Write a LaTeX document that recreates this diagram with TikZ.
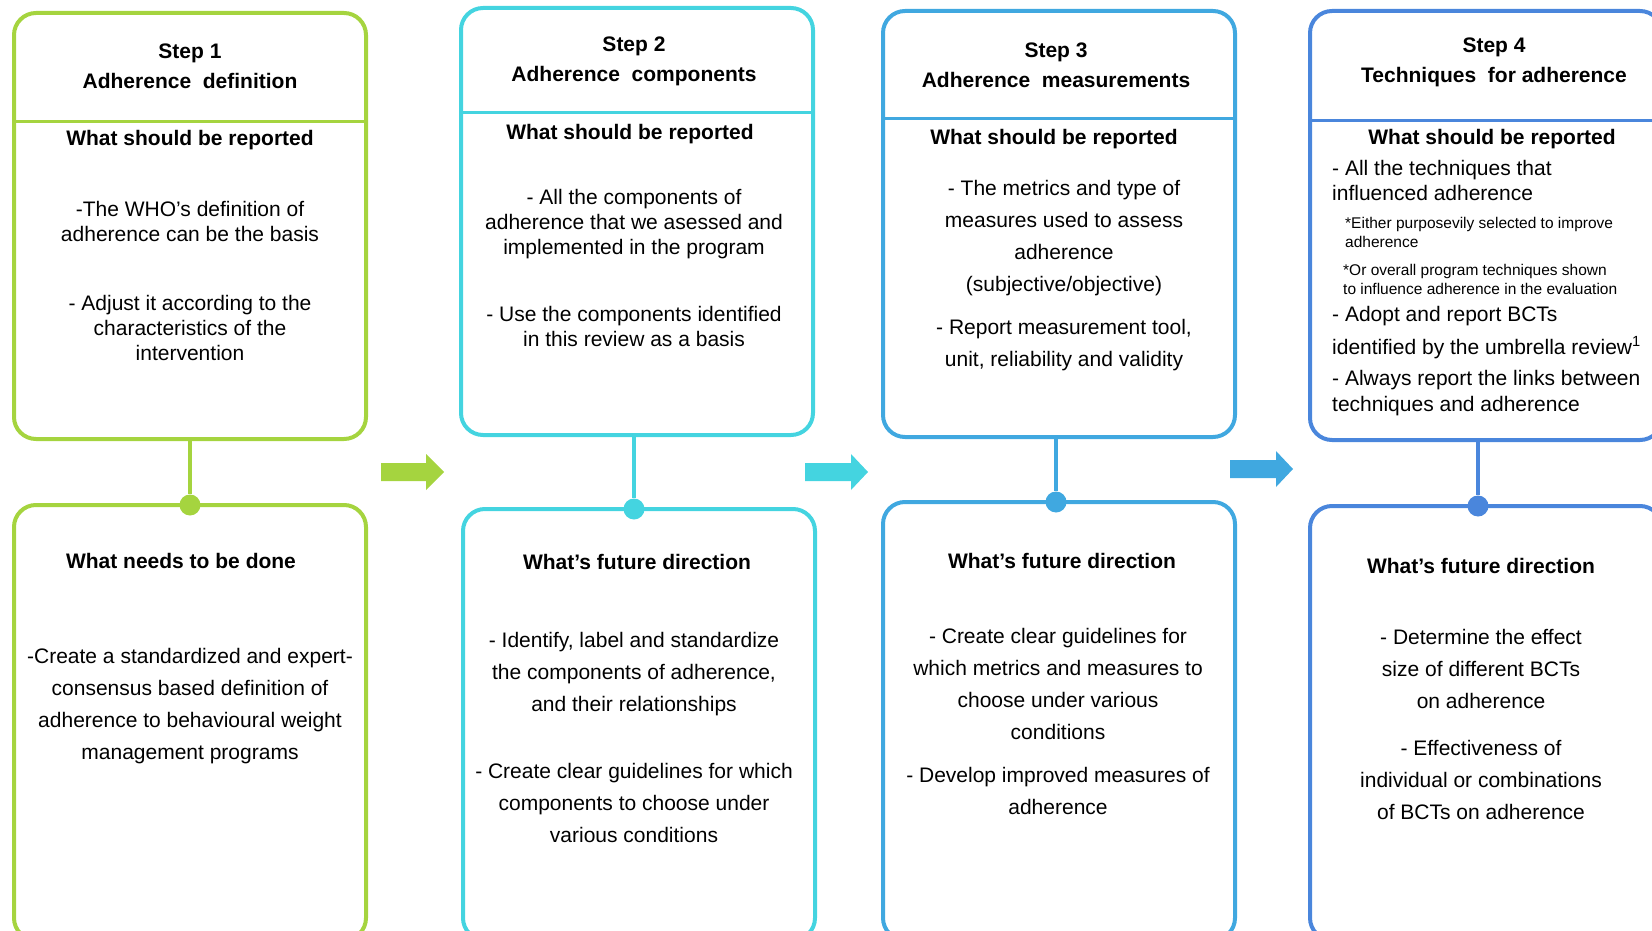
\documentclass[tikz,border=0pt]{standalone}
\usepackage{fontspec}
\setmainfont{Liberation Sans}
\definecolor{stepA}{HTML}{A5D43F}
\definecolor{stepB}{HTML}{44D4E0}
\definecolor{stepC}{HTML}{40A8E0}
\definecolor{stepD}{HTML}{4A86DC}
\begin{document}
\begin{tikzpicture}[x=1pt,y=-1pt,
  box/.style={draw, rounded corners=22pt, line width=4pt, minimum width=352pt, inner sep=0pt},
  dot/.style={circle, inner sep=0pt, minimum size=21pt},
  link/.style={line width=3.5pt},
  hd/.style={font=\fontsize{21}{30}\selectfont\bfseries, align=center, inner sep=0pt},
  txt/.style={font=\fontsize{21}{25}\selectfont, align=center, inner sep=0pt},
  txtwide/.style={font=\fontsize{21}{32}\selectfont, align=center, inner sep=0pt},
  txtsmall/.style={font=\fontsize{15.5}{19}\selectfont, align=left, inner sep=0pt, anchor=west}]
\useasboundingbox (0,0) rectangle (1652,931);
\clip (0,0) rectangle (1652,931);

\node[box, draw=stepA, minimum height=426pt] (top1) at (190,226) {};
\node[box, draw=stepB, minimum height=427pt] (top2) at (637,221.5) {};
\node[box, draw=stepC, minimum height=426pt] (top3) at (1059,224) {};
\node[box, draw=stepD, minimum height=429pt] (top4) at (1486,225.5) {};

\node[box, draw=stepA, minimum height=435pt] (bot1) at (190,722.5) {};
\node[box, draw=stepB, minimum height=431pt] (bot2) at (639,724.5) {};
\node[box, draw=stepC, minimum height=438pt] (bot3) at (1059,721) {};
\node[box, draw=stepD, minimum height=434pt] (bot4) at (1486,723) {};

\draw[stepA, line width=3pt] (top1.west |- 0,122) -- (top1.east |- 0,122);
\draw[stepB, line width=3pt] (top2.west |- 0,113) -- (top2.east |- 0,113);
\draw[stepC, line width=3pt] (top3.west |- 0,119) -- (top3.east |- 0,119);
\draw[stepD, line width=3pt] (top4.west |- 0,121) -- (top4.east |- 0,121);

\node[dot, fill=stepA] (dot1) at (190,505) {};
\node[dot, fill=stepB] (dot2) at (634,509) {};
\node[dot, fill=stepC] (dot3) at (1056,502) {};
\node[dot, fill=stepD] (dot4) at (1478,506) {};

\draw[stepA, link] (top1.south -| dot1) -- (dot1);
\draw[stepB, link] (top2.south -| dot2) -- (dot2);
\draw[stepC, link] (top3.south -| dot3) -- (dot3);
\draw[stepD, link] (top4.south -| dot4) -- (dot4);

\fill[stepA] (381,463) -- (426,463) -- (426,454) -- (444,472) -- (426,490) -- (426,481) -- (381,481) -- cycle;
\fill[stepB] (805,463) -- (851,463) -- (851,454) -- (868,472) -- (851,490) -- (851,481) -- (805,481) -- cycle;
\fill[stepC] (1230,460) -- (1276,460) -- (1276,451) -- (1293,469) -- (1276,487) -- (1276,478) -- (1230,478) -- cycle;

\node[hd] (step1) at (190,66.5) {Step 1\\Adherence~ definition};
\node[hd] (rep1) at (190,140) {What should be reported};
\node[txt] (rep1a) at (190,221.5) {-The WHO’s definition of\\adherence can be the basis};
\node[txt] (rep1b) at (190,327.5) {- Adjust it according to the\\characteristics of the\\intervention};
\node[hd] (fut1) at (181,561) {What needs to be done};
\node[txtwide] (fut1a) at (190,706) {-Create a standardized and expert-\\consensus based definition of\\adherence to behavioural weight\\management programs};

\node[hd] (step2) at (634,61.5) {Step 2\\Adherence~ components};
\node[hd] (rep2) at (630,134) {What should be reported};
\node[txt] (rep2a) at (634,224.5) {- All the components of\\adherence that we asessed and\\implemented in the program};
\node[txt] (rep2b) at (634,326) {- Use the components identified\\in this review as a basis};
\node[hd] (fut2) at (637,562) {What’s future direction};
\node[txtwide] (fut2a) at (634,674.5) {- Identify, label and standardize\\the components of adherence,\\and their relationships};
\node[txtwide] (fut2b) at (634,803) {- Create clear guidelines for which\\components to choose under\\various conditions};

\node[hd] (step3) at (1056,65) {Step 3\\Adherence~ measurements};
\node[hd] (rep3) at (1054,139) {What should be reported};
\node[txtwide] (rep3a) at (1064,238) {- The metrics and type of\\measures used to assess\\adherence\\(subjective/objective)};
\node[txtwide] (rep3b) at (1064,345) {- Report measurement tool,\\unit, reliability and validity};
\node[hd] (fut3) at (1062,561) {What’s future direction};
\node[txtwide] (fut3a) at (1058,683.5) {- Create clear guidelines for\\which metrics and measures to\\choose under various\\conditions};
\node[txtwide] (fut3b) at (1058,790.5) {- Develop improved measures of\\adherence};

\node[hd] (step4) at (1494,62) {Step 4\\Techniques~ for adherence};
\node[hd] (rep4) at (1492,139) {What should be reported};
\node[txt, align=left, anchor=west] (rep4a) at (1332,180.5) {- All the techniques that\\influenced adherence};
\node[txtsmall] (rep4b) at (1345,232.5) {*Either purposevily selected to improve\\adherence};
\node[txtsmall] (rep4c) at (1343,279.5) {*Or overall program techniques shown\\to influence adherence in the evaluation};
\node[txt, align=left, anchor=west, font=\fontsize{21}{33}\selectfont] (rep4d) at (1332,332.5) {- Adopt and report BCTs\\identified by the umbrella review\textsuperscript{1}};
\node[txt, align=left, anchor=west, font=\fontsize{21}{26}\selectfont] (rep4e) at (1332,393) {- Always report the links between\\techniques and adherence};
\node[hd] (fut4) at (1481,566) {What’s future direction};
\node[txtwide] (fut4a) at (1481,668.5) {- Determine the effect\\size of different BCTs\\on adherence};
\node[txtwide] (fut4b) at (1481,780) {- Effectiveness of\\individual or combinations\\of BCTs on adherence};
\end{tikzpicture}
\end{document}
